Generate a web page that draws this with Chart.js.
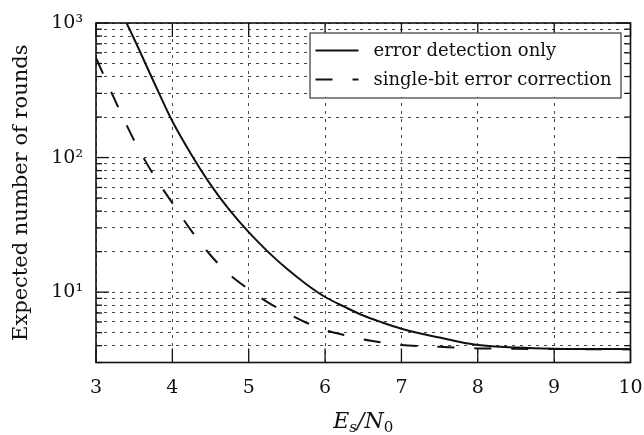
<!DOCTYPE html>
<html>
<head>
<meta charset="utf-8">
<script src="https://cdn.jsdelivr.net/npm/chart.js@4.4.1/dist/chart.umd.min.js"></script>
<style>
  html, body { margin: 0; padding: 0; background: #fff; }
</style>
</head>
<body>
<canvas id="roundsChart" width="644" height="435"></canvas>
<script>
// Es/N0 sample points and the two curves
const esN0 = [3, 3.25, 3.5, 3.75, 4, 4.25, 4.5, 4.75, 5, 5.25, 5.5, 5.75, 6, 6.25, 6.5, 6.75, 7, 7.25, 7.5, 7.75, 8, 8.5, 9, 9.5, 10];
const detectionOnly = [3000, 1500, 760, 372, 186, 105, 63, 40.7, 27.9, 20, 14.9, 11.5, 9.2, 7.8, 6.7, 5.95, 5.35, 4.92, 4.6, 4.28, 4.05, 3.88, 3.8, 3.78, 3.77];
const singleBitCorrection = [550, 266, 134, 75, 46, 28.5, 18.8, 13.5, 10.5, 8.4, 7.0, 5.95, 5.22, 4.8, 4.45, 4.22, 4.05, 3.97, 3.92, 3.86, 3.82, 3.79, 3.78, 3.77, 3.77];

const seriesLabels = ['error detection only', 'single-bit error correction'];
const xTickValues = [3, 4, 5, 6, 7, 8, 9, 10];
const yTickValues = [3, 4, 5, 6, 7, 8, 9, 10, 20, 30, 40, 50, 60, 70, 80, 90, 100, 200, 300, 400, 500, 600, 700, 800, 900, 1000];
const yTickLabels = { 10: '10¹', 100: '10²', 1000: '10³' };

const serif = "'DejaVu Serif', 'Liberation Serif', serif";
const ink = '#111';

function toPoints(ys) {
  return esN0.map((x, i) => ({ x: x, y: ys[i] }));
}

function line(ctx, x1, y1, x2, y2) {
  ctx.beginPath();
  ctx.moveTo(x1, y1);
  ctx.lineTo(x2, y2);
  ctx.stroke();
}

// inward ticks on all four sides + frame, legend box and the x axis label with subscripts
const framePlugin = {
  id: 'framePlugin',
  afterDraw(chart) {
    const ctx = chart.ctx;
    const a = chart.chartArea;
    const xs = chart.scales.x, ys = chart.scales.y;
    ctx.save();
    ctx.strokeStyle = ink;
    ctx.lineWidth = 1.3;
    xs.ticks.forEach(t => {
      const px = xs.getPixelForValue(t.value);
      line(ctx, px, a.bottom, px, a.bottom - 14);
      line(ctx, px, a.top, px, a.top + 14);
    });
    ys.ticks.forEach(t => {
      const py = ys.getPixelForValue(t.value);
      const len = yTickLabels[t.value] ? 13 : 6;
      line(ctx, a.left, py, a.left + len, py);
      line(ctx, a.right, py, a.right - len, py);
    });
    ctx.lineWidth = 1.6;
    ctx.strokeRect(a.left, a.top, a.right - a.left, a.bottom - a.top);

    // legend
    const bx = a.right - 321, by = a.top + 9.5, bw = 311, bh = 65;
    ctx.fillStyle = '#fff';
    ctx.fillRect(bx, by, bw, bh);
    ctx.lineWidth = 1;
    ctx.strokeRect(bx + 0.5, by + 0.5, bw, bh);
    ctx.font = '18px ' + serif;
    ctx.textBaseline = 'middle';
    ctx.fillStyle = ink;
    chart.data.datasets.forEach((ds, i) => {
      const ry = by + 18 + i * 29;
      ctx.strokeStyle = ds.borderColor;
      ctx.lineWidth = ds.borderWidth;
      ctx.setLineDash(ds.borderDash || []);
      line(ctx, bx + 6, ry, bx + 49, ry);
      ctx.setLineDash([]);
      ctx.fillText(ds.label, bx + 64, ry + 1);
    });

    // x axis label  E_s / N_0
    const cx = (a.left + a.right) / 2, base = 428;
    const parts = [
      { t: 'E', f: 'italic 22px ' + serif, dy: 0 },
      { t: 's', f: 'italic 15px ' + serif, dy: 4 },
      { t: '/', f: 'italic 22px ' + serif, dy: 0 },
      { t: 'N', f: 'italic 22px ' + serif, dy: 0 },
      { t: '0', f: '15px ' + serif, dy: 4 }
    ];
    let total = 0;
    parts.forEach(p => { ctx.font = p.f; p.w = ctx.measureText(p.t).width; total += p.w; });
    let px = cx - total / 2;
    ctx.textBaseline = 'alphabetic';
    parts.forEach(p => { ctx.font = p.f; ctx.fillText(p.t, px, base + p.dy); px += p.w; });
    ctx.restore();
  }
};

new Chart(document.getElementById('roundsChart'), {
  type: 'line',
  data: {
    datasets: [{
      label: seriesLabels[0],
      data: toPoints(detectionOnly),
      borderColor: ink,
      borderWidth: 2,
      pointRadius: 0,
      cubicInterpolationMode: 'monotone',
      clip: 0
    }, {
      label: seriesLabels[1],
      data: toPoints(singleBitCorrection),
      borderColor: ink,
      borderWidth: 2,
      borderDash: [17, 20],
      pointRadius: 0,
      cubicInterpolationMode: 'monotone',
      clip: 0
    }]
  },
  options: {
    responsive: false,
    animation: false,
    devicePixelRatio: 1,
    layout: { padding: { top: 23, right: 13.5, left: 0, bottom: 0 } },
    plugins: { legend: { display: false }, tooltip: { enabled: false } },
    scales: {
      x: {
        type: 'linear',
        min: 3,
        max: 10,
        afterBuildTicks: s => { s.ticks = xTickValues.map(v => ({ value: v })); },
        afterFit: s => { s.height = 72.5; s.paddingLeft = 0; s.paddingRight = 0; },
        grid: { color: '#444', lineWidth: 1, drawTicks: false },
        border: { display: false, dash: [3, 5] },
        ticks: { color: ink, font: { family: serif, size: 19 }, padding: 14, autoSkip: false, maxRotation: 0 }
      },
      y: {
        type: 'logarithmic',
        min: 3,
        max: 1000,
        afterBuildTicks: s => { s.ticks = yTickValues.map(v => ({ value: v, major: !!yTickLabels[v] })); },
        afterFit: s => { s.width = 96; s.paddingTop = 0; s.paddingBottom = 0; },
        grid: { color: '#444', lineWidth: 1, drawTicks: false },
        border: { display: false, dash: [3, 5] },
        ticks: {
          color: ink,
          font: { family: serif, size: 19 },
          padding: 13,
          autoSkip: false,
          callback: v => yTickLabels[v] || ''
        },
        title: {
          display: true,
          text: 'Expected number of rounds',
          color: ink,
          font: { family: serif, size: 21 },
          padding: { top: 9, bottom: 0 }
        }
      }
    }
  },
  plugins: [framePlugin]
});
</script>
</body>
</html>
